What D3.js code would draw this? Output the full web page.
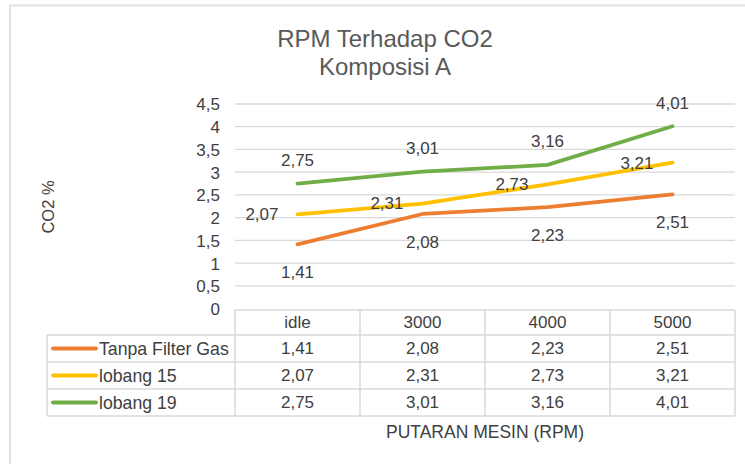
<!DOCTYPE html>
<html><head><meta charset="utf-8">
<script src="https://cdn.jsdelivr.net/npm/d3@7"></script>
<style>body{margin:0;background:#fff;}svg{display:block;font-family:"Liberation Sans",Arial,sans-serif;}</style>
</head><body>
<svg id="c" width="745" height="464"></svg>
<script>
const categories = ["idle", "3000", "4000", "5000"];
const seriesNames = ["Tanpa Filter Gas", "lobang 15", "lobang 19"];
const tanpaFilter = [1.41, 2.08, 2.23, 2.51];
const lobang15 = [2.07, 2.31, 2.73, 3.21];
const lobang19 = [2.75, 3.01, 3.16, 4.01];
const yTicks = [0, 0.5, 1, 1.5, 2, 2.5, 3, 3.5, 4, 4.5];
const colors = ["#ED7D31", "#FFC000", "#70AD47"];
const labelPos = ["below", "left", "above"];
const series = [tanpaFilter, lobang15, lobang19];

(function () {
const svg = d3.select("#c");
const fmt = v => String(v).replace(".", ",");
const tickFmt = v => String(v).replace(".", ",");
const txt = "#404040";
const grid = "#d9d9d9";
const fs = 17;

svg.append("path").attr("d", "M10,470 L10,5.5 L750,5.5").attr("fill", "none").attr("stroke", "#e3e3e3").attr("stroke-width", 2);

const pLeft = 235, pRight = 735, pTop = 104, pBottom = 308.5;
const x = d3.scaleBand().domain(categories).range([pLeft, pRight]);
const y = d3.scaleLinear().domain([0, 4.5]).range([pBottom, pTop]);

svg.append("text").attr("x", 385).attr("y", 47).attr("text-anchor", "middle").attr("font-size", 24).attr("fill", "#595959").text("RPM Terhadap CO2");
svg.append("text").attr("x", 385).attr("y", 75).attr("text-anchor", "middle").attr("font-size", 24).attr("fill", "#595959").text("Komposisi A");

svg.append("g").selectAll("line").data(yTicks.filter(d => d > 0)).join("line")
  .attr("x1", pLeft).attr("x2", pRight).attr("y1", d => y(d)).attr("y2", d => y(d))
  .attr("stroke", grid).attr("stroke-width", 1.3);

const yAxis = d3.axisLeft(y).tickValues(yTicks).tickFormat(tickFmt).tickSize(0).tickPadding(0);
const ga = svg.append("g").attr("transform", `translate(${pLeft - 15},0)`).call(yAxis);
ga.select(".domain").remove();
ga.selectAll("text").attr("font-size", fs).attr("fill", txt).attr("font-family", "Liberation Sans, Arial, sans-serif").attr("dy", "0.35em");

svg.append("text").attr("transform", "translate(54,207) rotate(-90)").attr("text-anchor", "middle")
  .attr("font-size", 16.5).attr("fill", txt).text("CO2 %");

const line = d3.line().x((d, i) => x(categories[i]) + x.bandwidth() / 2).y(d => y(d));
series.forEach((s, k) => {
  svg.append("path").datum(s).attr("d", line).attr("fill", "none")
    .attr("stroke", colors[k]).attr("stroke-width", 3.8).attr("stroke-linejoin", "round").attr("stroke-linecap", "round");
});

series.forEach((s, k) => {
  svg.append("g").selectAll("text").data(s).join("text")
    .attr("font-size", fs).attr("fill", txt)
    .attr("x", (d, i) => {
      const cx = x(categories[i]) + x.bandwidth() / 2;
      return labelPos[k] === "left" ? cx - 19 : cx;
    })
    .attr("y", d => {
      const cy = y(d);
      if (labelPos[k] === "below") return cy + 28;
      if (labelPos[k] === "above") return cy - 23.5;
      return cy;
    })
    .attr("dy", "0.35em")
    .attr("text-anchor", labelPos[k] === "left" ? "end" : "middle")
    .text(fmt);
});

const tTop = 310, rowH = [25, 27, 27, 27];
const rowY = [tTop];
rowH.forEach((h, i) => rowY.push(rowY[i] + h));
const legLeft = 47;
const tb = svg.append("g");
tb.append("line").attr("x1", pLeft).attr("x2", pRight).attr("y1", rowY[0]).attr("y2", rowY[0]).attr("stroke", grid).attr("stroke-width", 1.5);
for (let i = 1; i < rowY.length; i++) {
  tb.append("line").attr("x1", legLeft).attr("x2", pRight).attr("y1", rowY[i]).attr("y2", rowY[i]).attr("stroke", grid).attr("stroke-width", 1.5);
}
tb.append("line").attr("x1", legLeft).attr("x2", legLeft).attr("y1", rowY[1]).attr("y2", rowY[4]).attr("stroke", grid).attr("stroke-width", 1.5);
categories.forEach(c => {
  tb.append("line").attr("x1", x(c)).attr("x2", x(c)).attr("y1", rowY[0]).attr("y2", rowY[4]).attr("stroke", grid).attr("stroke-width", 1.5);
});
tb.append("line").attr("x1", pRight).attr("x2", pRight).attr("y1", rowY[0]).attr("y2", rowY[4]).attr("stroke", grid).attr("stroke-width", 1.5);

tb.selectAll("text.h").data(categories).join("text").attr("class", "h")
  .attr("x", d => x(d) + x.bandwidth() / 2).attr("y", (rowY[0] + rowY[1]) / 2).attr("dy", "0.35em")
  .attr("text-anchor", "middle").attr("font-size", fs).attr("fill", txt).text(d => d);

series.forEach((s, k) => {
  const cy = (rowY[k + 1] + rowY[k + 2]) / 2;
  tb.append("line").attr("x1", 53).attr("x2", 96).attr("y1", cy).attr("y2", cy)
    .attr("stroke", colors[k]).attr("stroke-width", 3.8).attr("stroke-linecap", "round");
  tb.append("text").attr("x", 99).attr("y", cy).attr("dy", "0.35em").attr("font-size", 17.7).attr("fill", txt).text(seriesNames[k]);
  tb.append("g").selectAll("text").data(s).join("text")
    .attr("x", (d, i) => x(categories[i]) + x.bandwidth() / 2).attr("y", cy).attr("dy", "0.35em")
    .attr("text-anchor", "middle").attr("font-size", fs).attr("fill", txt).text(fmt);
});

svg.append("text").attr("x", (pLeft + pRight) / 2).attr("y", 438).attr("text-anchor", "middle")
  .attr("font-size", 17.5).attr("fill", txt).text("PUTARAN MESIN (RPM)");
})();
</script>
</body></html>
